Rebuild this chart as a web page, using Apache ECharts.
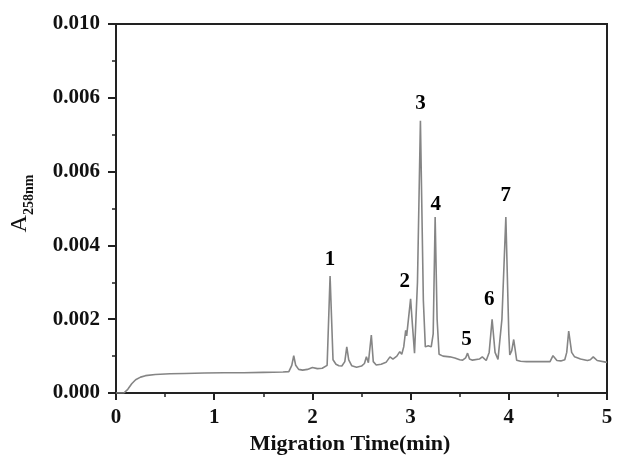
<!DOCTYPE html>
<html>
<head>
<meta charset="utf-8">
<script src="https://cdn.jsdelivr.net/npm/echarts@6/dist/echarts.min.js"></script>
<style>html,body{margin:0;padding:0;background:#fff}#c{width:633px;height:466px}</style>
</head>
<body>
<div id="c"></div>
<script>
// Migration time (min)
var times = [0.00,0.08,0.12,0.16,0.20,0.25,0.30,0.40,0.55,0.70,0.90,1.10,1.30,1.50,1.70,1.76,1.79,1.81,1.83,1.86,1.90,1.95,2.00,2.05,2.10,2.15,2.18,2.21,2.24,2.27,2.30,2.33,2.35,2.37,2.40,2.45,2.50,2.53,2.55,2.57,2.60,2.62,2.65,2.70,2.75,2.79,2.82,2.86,2.89,2.91,2.93,2.95,2.96,3.00,3.02,3.04,3.07,3.10,3.13,3.15,3.18,3.21,3.23,3.25,3.27,3.29,3.33,3.40,3.45,3.50,3.53,3.56,3.58,3.60,3.63,3.70,3.73,3.77,3.80,3.83,3.86,3.89,3.93,3.97,4.00,4.01,4.03,4.05,4.08,4.12,4.18,4.30,4.42,4.45,4.49,4.53,4.57,4.59,4.61,4.64,4.67,4.73,4.80,4.83,4.86,4.90,5.00];
// Absorbance at 258 nm
var absorbance = [0.00000,0.00000,0.00010,0.00025,0.00036,0.00043,0.00047,0.00050,0.00052,0.00053,0.00054,0.00055,0.00055,0.00056,0.00057,0.00058,0.00075,0.00101,0.00075,0.00064,0.00062,0.00064,0.00069,0.00066,0.00067,0.00075,0.00317,0.00090,0.00078,0.00074,0.00073,0.00085,0.00125,0.00090,0.00074,0.00070,0.00073,0.00080,0.00098,0.00082,0.00157,0.00085,0.00076,0.00078,0.00083,0.00098,0.00092,0.00100,0.00112,0.00105,0.00125,0.00170,0.00155,0.00255,0.00180,0.00108,0.00300,0.00738,0.00250,0.00125,0.00128,0.00125,0.00160,0.00477,0.00200,0.00105,0.00100,0.00098,0.00095,0.00090,0.00089,0.00095,0.00108,0.00092,0.00089,0.00092,0.00098,0.00088,0.00110,0.00200,0.00110,0.00091,0.00200,0.00477,0.00160,0.00103,0.00115,0.00145,0.00089,0.00086,0.00085,0.00085,0.00085,0.00101,0.00088,0.00087,0.00090,0.00110,0.00168,0.00110,0.00098,0.00092,0.00088,0.00090,0.00098,0.00088,0.00083];
// Peak labels
var peakNames = ['1','2','3','4','5','6','7'];
var peakLabelTimes = [2.18,2.94,3.10,3.255,3.57,3.80,3.97];
var peakLabelValues = [0.00361,0.00302,0.00783,0.00511,0.00144,0.00253,0.00535];
// Tick labels as printed
var yTickLabels = ['0.000','0.002','0.004','0.006','0.006','0.010'];
var xTickLabels = ['0','1','2','3','4','5'];

var lineData = times.map(function(t,i){return [t, absorbance[i]];});
var labelData = peakNames.map(function(n,i){return {name:n, value:[peakLabelTimes[i], peakLabelValues[i]]};});

var serif = '"Liberation Serif", "Times New Roman", serif';
var axisColor = '#222';
var chart = echarts.init(document.getElementById('c'));
chart.setOption({
  animation:false,
  backgroundColor:'#fff',
  grid:{left:116,right:26,top:24,bottom:73,show:true,borderColor:axisColor,borderWidth:2,backgroundColor:'transparent'},
  xAxis:{
    type:'value',min:0,max:5,interval:1,
    name:'Migration Time(min)',nameLocation:'middle',nameGap:40,
    nameTextStyle:{fontFamily:serif,fontWeight:'bold',fontSize:22,color:'#111',padding:[0,23,0,0]},
    axisLine:{show:true,lineStyle:{color:axisColor,width:2}},
    axisTick:{show:true,inside:false,length:7,lineStyle:{color:axisColor,width:2}},
    minorTick:{show:true,splitNumber:2,length:4,lineStyle:{color:axisColor,width:1.5}},
    splitLine:{show:false},
    axisLabel:{margin:14,fontFamily:serif,fontWeight:'bold',fontSize:21,color:'#111',
      formatter:function(v){var i=Math.round(v);return xTickLabels[i]!==undefined?xTickLabels[i]:'';}}
  },
  yAxis:{
    type:'value',min:0,max:0.010,interval:0.002,
    name:'{a|A}{s|258nm}',nameLocation:'middle',nameGap:84,nameRotate:90,
    nameTextStyle:{padding:[0,0,0,10],rich:{
      a:{fontFamily:serif,fontSize:24,color:'#111',verticalAlign:'bottom'},
      s:{fontFamily:serif,fontWeight:'bold',fontSize:14,color:'#111',verticalAlign:'bottom',padding:[0,0,-4,0]}
    }},
    axisLine:{show:true,lineStyle:{color:axisColor,width:2}},
    axisTick:{show:true,inside:false,length:8,lineStyle:{color:axisColor,width:2}},
    minorTick:{show:true,splitNumber:2,length:4,lineStyle:{color:axisColor,width:1.5}},
    splitLine:{show:false},
    axisLabel:{margin:16,fontFamily:serif,fontWeight:'bold',fontSize:21,color:'#111',
      formatter:function(v){var i=Math.round(v/0.002);return yTickLabels[i]!==undefined?yTickLabels[i]:'';}}
  },
  series:[
    {type:'line',data:lineData,showSymbol:false,smooth:false,
      lineStyle:{color:'#858585',width:1.6},z:2},
    {type:'scatter',data:labelData,symbol:'circle',symbolSize:1,z:3,itemStyle:{color:'rgba(0,0,0,0)',opacity:1},
      label:{show:true,position:'inside',formatter:'{b}',fontFamily:serif,fontWeight:'bold',fontSize:21,color:'#000',opacity:1,textBorderWidth:0,textBorderColor:'transparent'}}
  ]
});
</script>
</body>
</html>
